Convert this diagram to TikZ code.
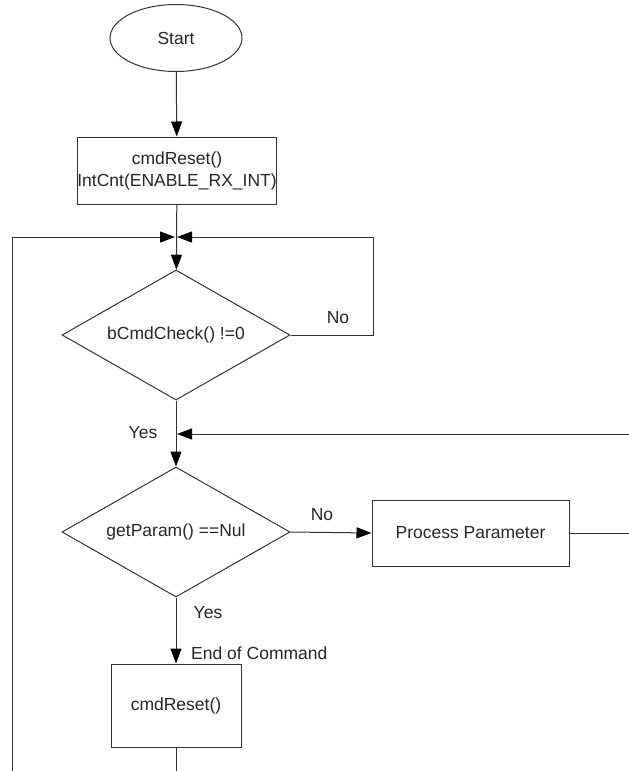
\documentclass[tikz,border=0pt]{standalone}
\usepackage{fontspec}
\setmainfont{Liberation Sans}
\usetikzlibrary{shapes.geometric,arrows.meta}
\begin{document}
\begin{tikzpicture}[x=1pt,y=-1pt,
  every node/.style={font=\fontsize{17.5}{22}\selectfont, text=black!85},
  line/.style={draw=black!80, line width=1pt},
  arr/.style={line, -{Triangle[length=15pt,width=11pt,fill=black,color=black]}},
  boxnode/.style={draw=black!80, line width=1pt, rectangle, inner sep=0pt, align=center},
  dec/.style={draw=black!80, line width=1pt, diamond, aspect=1.75, inner sep=0pt, minimum width=228pt, minimum height=130pt},
  lbl/.style={inner sep=0pt}]
\useasboundingbox (0,0) rectangle (629,771);
\node[draw=black!80, line width=1pt, ellipse, minimum width=132pt, minimum height=67pt, inner sep=0pt] (start) at (176,38) {Start};
\node[boxnode, minimum width=160pt, minimum height=67pt] (init) at (177,170.5) {cmdReset()\\IntCnt(ENABLE\_RX\_INT)};
\node[dec] (chk) at (176,335) {bCmdCheck() !=0};
\node[dec] (par) at (176,532) {getParam() ==Nul};
\node[boxnode, minimum width=197pt, minimum height=66pt] (proc) at (470.5,533) {Process Parameter};
\node[boxnode, minimum width=130pt, minimum height=83pt] (rst) at (176,705.5) {cmdReset()};
\coordinate (J) at (176,237);
\coordinate (Y) at (176,434);
\coordinate (lb) at (12,771);
\coordinate (rb) at (176,771);
\coordinate (nr) at (373,335);
\coordinate (pr) at (629,533);
\coordinate (pt) at (629,434);
\draw[arr] (start) -- (init);
\draw[arr] (init) -- (chk);
\draw[arr] (lb) -- (12,237) -- ([xshift=-1pt]J);
\draw[arr] (chk.east) -- (nr) |- ([xshift=1pt]J);
\draw[arr] (chk) -- (par);
\draw[line] (proc.east) -- (pr);
\draw[arr] (pt) -- ([xshift=1pt]Y);
\draw[arr] (par.east) -- (proc.west);
\draw[arr] (par) -- (rst);
\draw[line] (rst) -- (rb);
\node[lbl] (no1) at (338,318) {No};
\node[lbl] (yes1) at (143,433) {Yes};
\node[lbl] (no2) at (322,515) {No};
\node[lbl] (yes2) at (208,613) {Yes};
\node[lbl, anchor=west] (eoc) at (191,653) {End of Command};
\end{tikzpicture}
\end{document}
